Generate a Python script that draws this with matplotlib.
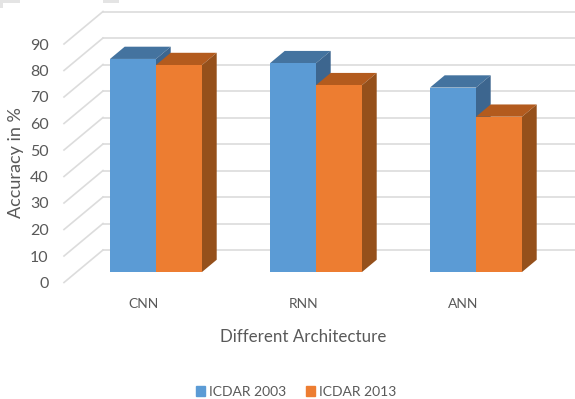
import matplotlib
matplotlib.use('Agg')
import matplotlib.pyplot as plt
from matplotlib.patches import Patch, Polygon, Rectangle

categories = ['CNN', 'RNN', 'ANN']
icdar_2003 = [80.4, 78.8, 69.6]
icdar_2013 = [78.1, 70.5, 58.6]
y_ticks = list(range(0, 100, 10))

plt.rcParams['font.family'] = ['Lato', 'DejaVu Sans']
TEXT = '#595959'
GRID = '#DCDCDC'

W, H = 575, 399
fig = plt.figure(figsize=(W / 100, H / 100), dpi=100)

# plot box in pixels: value 0 sits at y=282.5, one unit of value is 2.65 px
left, right, zero_y = 64, 575, 282.5
px_per_val = 2.65
top_val = 102
px_per_cat = 160
ax = fig.add_axes([left / W, (H - zero_y) / H, (right - left) / W,
                   top_val * px_per_val / H])
ax.set_xlim((left - 143.4) / px_per_cat, (right - 143.4) / px_per_cat)
ax.set_ylim(0, top_val)

# oblique depth offset of the 3D box, in data units
back_dx = 39 / px_per_cat
back_dy = 32.5 / px_per_val


def shift(x, y, depth):
    return x + depth * back_dx, y + depth * back_dy


# back wall gridlines and the diagonals on the side wall
x_end = ax.get_xlim()[1]
x_start = ax.get_xlim()[0]
for v in y_ticks:
    x1, y1 = shift(x_start, v, 1)
    ax.plot([x_start, x1], [v, y1], color=GRID, lw=1.2, clip_on=False, zorder=1)
    ax.plot([x1, x_end], [y1, y1], color=GRID, lw=1.2, clip_on=False, zorder=1)

bar_w = 46 / px_per_cat
d_front = 0.323
d_back = 0.70


def draw_bar(cx, val, front, top, side):
    x0, x1 = cx - bar_w, cx
    y0 = 0
    corners = [shift(x0, val, d_front), shift(x1, val, d_front),
               shift(x1, val, d_back), shift(x0, val, d_back)]
    ax.add_patch(Polygon(corners, color=top, lw=0, zorder=3, clip_on=False))
    corners = [shift(x1, y0, d_front), shift(x1, val, d_front),
               shift(x1, val, d_back), shift(x1, y0, d_back)]
    ax.add_patch(Polygon(corners, color=side, lw=0, zorder=3, clip_on=False))
    fx, fy = shift(x0, y0, d_front)
    ax.bar(fx, val, width=bar_w, bottom=fy, align='edge', color=front, zorder=3,
           clip_on=False)


for i in range(len(categories)):
    draw_bar(i, icdar_2003[i], '#5B9BD5', '#44739F', '#3D668F')
    draw_bar(i + bar_w, icdar_2013[i], '#ED7D31', '#B35B1E', '#95501B')

ax.set_yticks(y_ticks)
ax.set_xticks(range(len(categories)), categories)
ax.tick_params(axis='y', length=0, pad=11, labelsize=11.5, labelcolor=TEXT)
ax.tick_params(axis='x', length=0, pad=11, labelsize=10, labelcolor=TEXT)
for s in ax.spines.values():
    s.set_visible(False)

fig.text(16 / W, 1 - 163 / H, 'Accuracy in %', rotation=90, ha='center', va='center',
         fontsize=13, color=TEXT)
fig.text(303 / W, 1 - 337 / H, 'Different Architecture', ha='center', va='center',
         fontsize=12.2, color=TEXT)

handles = [Patch(color='#5B9BD5', label='ICDAR 2003'), Patch(color='#ED7D31', label='ICDAR 2013')]
fig.legend(handles=handles, ncol=2, loc='center', bbox_to_anchor=(296 / W, 1 - 392 / H),
           frameon=False, fontsize=10, labelcolor=TEXT, handlelength=0.65, handleheight=0.65,
           handletextpad=0.3, columnspacing=1.45, borderpad=0)

# cropped grey scraps along the top edge
for x, y, w, h in [(0, 0, 20, 3), (0, 0, 3, 8), (103, 0, 16, 3)]:
    fig.add_artist(Rectangle((x / W, 1 - (y + h) / H), w / W, h / H, color='#E4E4E4', lw=0,
                             transform=fig.transFigure))

fig.savefig('out.png', dpi=100)
